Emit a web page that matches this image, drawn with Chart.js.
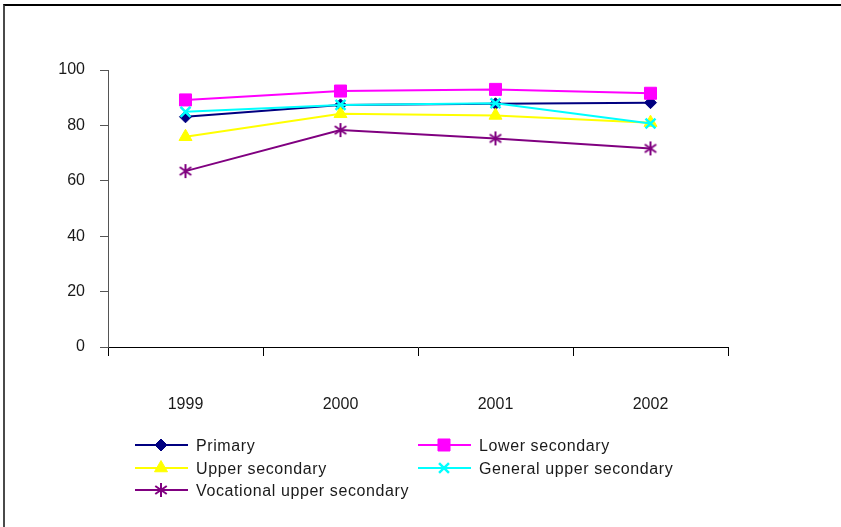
<!DOCTYPE html>
<html>
<head>
<meta charset="utf-8">
<script src="https://cdn.jsdelivr.net/npm/chart.js@4/dist/chart.umd.min.js"></script>
<style>
  html, body { margin: 0; padding: 0; background: #fff; }
  #wrap { position: relative; width: 841px; height: 527px; overflow: hidden; background: #fff; }
  #wrap canvas { position: absolute; left: 0; top: 0; }
  #frame {
    position: absolute; left: 3px; top: 4px; right: -10px; bottom: -10px;
    border-top: 2px solid #000; border-left: 2px solid #4a4a4a;
    pointer-events: none;
  }
</style>
</head>
<body>
<div id="wrap">
  <canvas id="chart" width="841" height="527"></canvas>
  <div id="frame"></div>
</div>
<script>
// Categories and series (percent)
const years = ['1999', '2000', '2001', '2002'];
const primary = [83.1, 87.4, 87.8, 88.2];
const lowerSecondary = [89.2, 92.4, 93.0, 91.6];
const upperSecondary = [75.9, 84.2, 83.6, 81.0];
const generalUpperSecondary = [84.9, 87.4, 88.0, 80.7];
const vocationalUpperSecondary = [63.5, 78.3, 75.3, 71.7];
const seriesNames = ['Primary', 'Lower secondary', 'Upper secondary', 'General upper secondary', 'Vocational upper secondary'];
const yTicks = [0, 20, 40, 60, 80, 100];

const FONT = "'Liberation Sans', Arial, Helvetica, sans-serif";

// Six-armed asterisk marker
function makeAsterisk(color, r, lw) {
  const size = Math.ceil(2 * r + lw + 2);
  const c = document.createElement('canvas');
  c.width = size; c.height = size;
  const g = c.getContext('2d');
  g.strokeStyle = color; g.lineWidth = lw; g.lineCap = 'butt';
  const cx = size / 2, cy = size / 2;
  [90, 35, 145].forEach(function (deg) {
    const a = deg * Math.PI / 180;
    g.beginPath();
    g.moveTo(cx - Math.cos(a) * r, cy - Math.sin(a) * r);
    g.lineTo(cx + Math.cos(a) * r, cy + Math.sin(a) * r);
    g.stroke();
  });
  return c;
}
const asterisk = makeAsterisk('#800080', 7, 2);

function series(label, data, color, style, radius, bw, order) {
  return {
    label: label, data: data,
    borderColor: color, backgroundColor: color,
    borderWidth: 2, tension: 0, fill: false,
    pointStyle: style, pointRadius: radius, pointHoverRadius: radius,
    pointBorderColor: color, pointBackgroundColor: color, pointBorderWidth: bw,
    order: order
  };
}

const datasets = [
  series(seriesNames[0], primary, '#000080', 'rectRot', 6, 1, 5),
  series(seriesNames[1], lowerSecondary, '#FF00FF', 'rect', 8.5, 1, 4),
  series(seriesNames[2], upperSecondary, '#FFFF00', 'triangle', 7.5, 1, 3),
  series(seriesNames[3], generalUpperSecondary, '#00FFFF', 'crossRot', 7, 2.5, 2),
  series(seriesNames[4], vocationalUpperSecondary, '#800080', asterisk, 7, 2, 1)
];

// Two-column legend below the axis
const legendSlots = [
  { x: 135, y: 445 }, { x: 418, y: 445 },
  { x: 135, y: 468 }, { x: 418, y: 468 },
  { x: 135, y: 490 }
];

const legendPlugin = {
  id: 'boxLegend',
  afterDraw(chart) {
    const ctx = chart.ctx;
    const helpers = Chart.helpers || {};
    chart.data.datasets.forEach(function (ds, i) {
      const s = legendSlots[i];
      ctx.save();
      ctx.strokeStyle = ds.borderColor;
      ctx.lineWidth = 2;
      ctx.beginPath();
      ctx.moveTo(s.x, s.y);
      ctx.lineTo(s.x + 53, s.y);
      ctx.stroke();
      if (helpers.drawPoint) {
        ctx.fillStyle = ds.pointBackgroundColor;
        ctx.strokeStyle = ds.pointBorderColor;
        ctx.lineWidth = ds.pointBorderWidth;
        helpers.drawPoint(ctx, {
          pointStyle: ds.pointStyle, rotation: 0,
          radius: ds.pointRadius, borderWidth: ds.pointBorderWidth
        }, s.x + 26, s.y);
      }
      ctx.fillStyle = '#1a1a1a';
      ctx.font = '16px ' + FONT;
      if ('letterSpacing' in ctx) ctx.letterSpacing = '0.6px';
      ctx.textAlign = 'left';
      ctx.textBaseline = 'middle';
      ctx.fillText(ds.label, s.x + 61, s.y + 2);
      ctx.restore();
    });
  }
};

new Chart(document.getElementById('chart'), {
  type: 'line',
  data: { labels: years, datasets: datasets },
  plugins: [legendPlugin],
  options: {
    responsive: false,
    animation: false,
    devicePixelRatio: 1,
    layout: { padding: { left: 0, right: 113, top: 70, bottom: 0 } },
    plugins: { legend: { display: false }, tooltip: { enabled: false } },
    scales: {
      x: {
        type: 'category',
        offset: true,
        grid: { offset: true, drawOnChartArea: false, drawTicks: true, tickLength: 9, color: '#000', lineWidth: 1 },
        border: { display: true, color: '#000', width: 1 },
        ticks: { color: '#1a1a1a', font: { family: FONT, size: 16 }, padding: 39, maxRotation: 0, autoSkip: false },
        afterFit(scale) { scale.height = 180; }
      },
      y: {
        min: yTicks[0],
        max: yTicks[yTicks.length - 1],
        afterBuildTicks(scale) { scale.ticks = yTicks.map(function (v) { return { value: v }; }); },
        grid: { drawOnChartArea: false, drawTicks: true, tickLength: 8, color: '#555', lineWidth: 1 },
        border: { display: true, color: '#555', width: 1 },
        ticks: { color: '#1a1a1a', font: { family: FONT, size: 16 }, padding: 15 },
        afterFit(scale) { scale.width = 108; }
      }
    }
  }
});
</script>
</body>
</html>
